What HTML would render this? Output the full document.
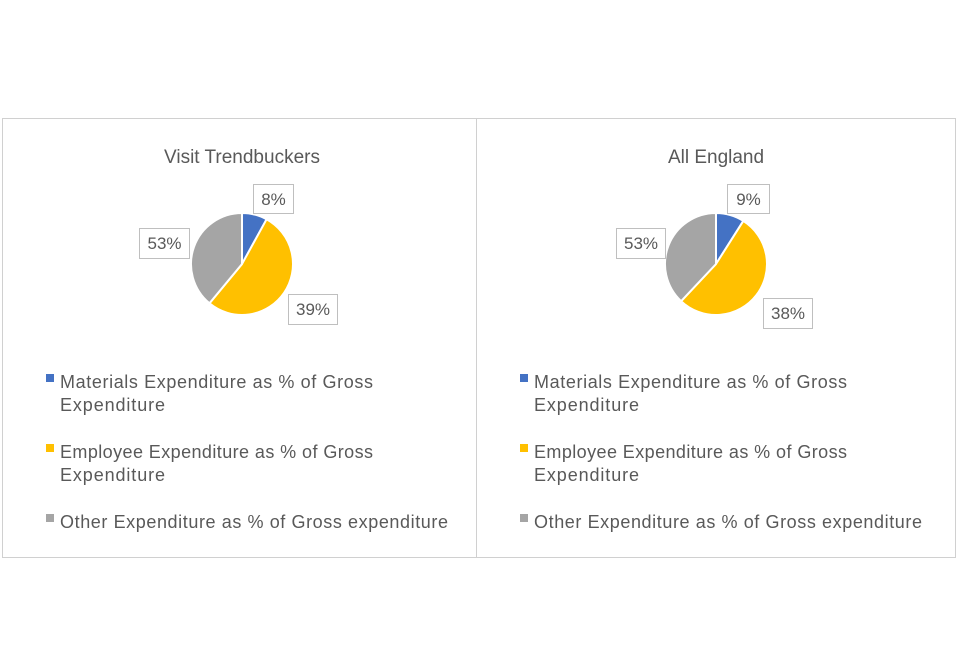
<!DOCTYPE html>
<html><head><meta charset="utf-8"><style>
body{margin:0;background:#fff;}
svg text{font-family:"Liberation Sans",sans-serif;fill:#595959;}
</style></head><body>
<svg width="960" height="640">
<g id="root"></g>
</svg>
<script>
const panelTitles = ["Visit Trendbuckers", "All England"];
const categories = ["Materials Expenditure as % of Gross Expenditure", "Employee Expenditure as % of Gross Expenditure", "Other Expenditure as % of Gross expenditure"];
const trendbuckersValues = [8, 53, 39];
const englandValues = [9, 53, 38];
const trendbuckersLabels = ["8%", "39%", "53%"];
const englandLabels = ["9%", "38%", "53%"];

const colors = ["#4472C4", "#FFC000", "#A5A5A5"];
const NS = "http://www.w3.org/2000/svg";
const root = document.getElementById('root');
function mk(tag, attrs, parent){const e=document.createElementNS(NS,tag);for(const k in attrs)e.setAttribute(k,attrs[k]);(parent||root).appendChild(e);return e;}

const panels = [
 {x:2, w:474, cx:242, values:trendbuckersValues, labels:trendbuckersLabels, name:'trendbuckers',
  boxes:[[253,184,40,29],[288,294,49,30],[139,228,50,30]]},
 {x:476, w:479, cx:716, values:englandValues, labels:englandLabels, name:'england',
  boxes:[[727,184,42,29],[763,298,49,30],[616,228,49,30]]}
];
const cy = 264, r = 51;
const legendLines = [["Materials Expenditure as % of Gross","Expenditure"],["Employee Expenditure as % of Gross","Expenditure"],["Other Expenditure as % of Gross expenditure"]];
const legendY = [382, 452, 522];

panels.forEach((p, pi) => {
  const g = mk('g', {});
  
  
  const frame = mk('rect', {x:p.x+0.5, y:118.5, width:p.w, height:439, fill:'none', stroke:'#d0d0d0'}, g);
  
  
  const t = mk('text', {x:p.cx, y:163, 'text-anchor':'middle', 'font-size':'19'}, g);
  t.textContent = panelTitles[pi];
  
  
  const total = p.values.reduce((a,b)=>a+b,0);
  let a0 = 0;
  p.values.forEach((v, i) => {
    const a1 = a0 + v/total*2*Math.PI;
    const x0 = p.cx + r*Math.sin(a0), y0 = cy - r*Math.cos(a0);
    const x1 = p.cx + r*Math.sin(a1), y1 = cy - r*Math.cos(a1);
    const large = (a1-a0) > Math.PI ? 1 : 0;
    const s = mk('path', {d:`M${p.cx},${cy} L${x0},${y0} A${r},${r} 0 ${large} 1 ${x1},${y1} Z`, fill:colors[i], stroke:'#fff', 'stroke-width':'2'}, g);
    
    
    a0 = a1;
  });
  p.labels.forEach((lab, i) => {
    const b = p.boxes[i];
    const rc = mk('rect', {x:b[0]+0.5, y:b[1]+0.5, width:b[2], height:b[3], fill:'#fff', stroke:'#bfbfbf'}, g);
    
    
    const tx = mk('text', {x:b[0]+b[2]/2+0.5, y:b[1]+21, 'text-anchor':'middle', 'font-size':'17'}, g);
    tx.textContent = lab;
    
    
  });
  categories.forEach((c, i) => {
    const sq = mk('rect', {x:p.x+44, y:legendY[i]-8, width:8, height:8, fill:colors[i]}, g);
    
    
    legendLines[i].forEach((ln, j) => {
      const tx = mk('text', {x:p.x+58, y:legendY[i]+6+j*23, 'font-size':'18'}, g);
      if (ln.length > 30) tx.setAttribute('textLength', ln.length > 40 ? 388 : 313);
      else tx.setAttribute('textLength', 105);
      tx.textContent = ln;
      
      
    });
  });
});
</script>
</body></html>
